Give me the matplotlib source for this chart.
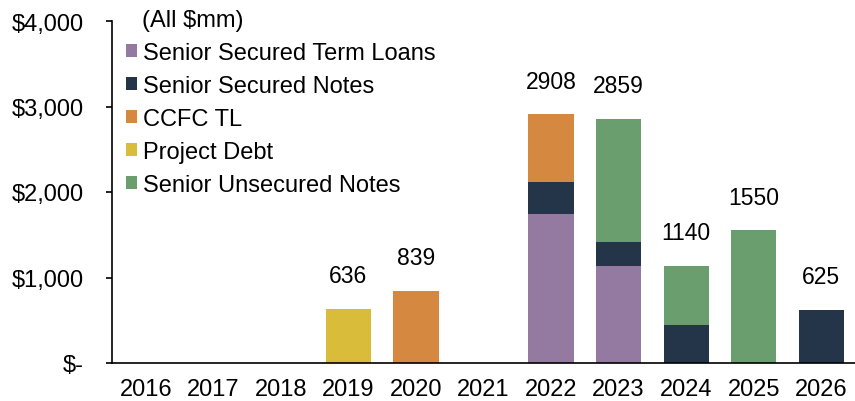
import numpy as np
import matplotlib.pyplot as plt
from matplotlib.ticker import FuncFormatter

plt.rcParams['font.family'] = ['Liberation Sans', 'DejaVu Sans']

years = ['2016', '2017', '2018', '2019', '2020', '2021', '2022', '2023', '2024', '2025', '2026']
term_loans = [0, 0, 0, 0, 0, 0, 1745, 1135, 0, 0, 0]
secured_notes = [0, 0, 0, 0, 0, 0, 372, 280, 440, 0, 625]
ccfc_tl = [0, 0, 0, 0, 839, 0, 791, 0, 0, 0, 0]
project_debt = [0, 0, 0, 636, 0, 0, 0, 0, 0, 0, 0]
unsecured_notes = [0, 0, 0, 0, 0, 0, 0, 1444, 700, 1550, 0]

series = [
    ('Senior Secured Term Loans', term_loans, '#9479a0'),
    ('Senior Secured Notes', secured_notes, '#243449'),
    ('CCFC TL', ccfc_tl, '#d5883f'),
    ('Project Debt', project_debt, '#d9bc3a'),
    ('Senior Unsecured Notes', unsecured_notes, '#6a9e6e'),
]

W, H = 855, 402
fig = plt.figure(figsize=(W / 100, H / 100), dpi=100)
ax = fig.add_axes([112 / W, 1 - 364 / H, 1 - 112 / W, 342 / H])

x = np.arange(len(years))
bottom = np.zeros(len(years))
for name, vals, color in series:
    vals = np.array(vals, dtype=float)
    ax.bar(x, vals, 0.67, bottom=bottom, color=color, label=name)
    bottom += vals

# totals above each stack
for xi, total in zip(x, bottom):
    if total > 0:
        ax.annotate(f'{int(total)}', (xi, total), xytext=(0, 24), textcoords='offset points',
                    ha='center', va='center', fontsize=16.5)

ax.set_xlim(-0.5, 10.5)
ax.set_ylim(0, 4000)
ax.set_yticks([0, 1000, 2000, 3000, 4000])
ax.yaxis.set_major_formatter(FuncFormatter(lambda v, p: '$-' if v == 0 else f'${v:,.0f}'))
ax.set_xticks(x)
ax.set_xticklabels(years)
ax.tick_params(axis='y', length=4.5, width=1.2, labelsize=17, pad=16)
ax.tick_params(axis='x', length=0, labelsize=17, pad=11)
for s in ['top', 'right']:
    ax.spines[s].set_visible(False)
ax.spines['left'].set_linewidth(1.2)
ax.spines['bottom'].set_linewidth(1.2)

ax.legend(loc='upper left', bbox_to_anchor=(126 / W, 1 - 43 / H), bbox_transform=fig.transFigure,
          frameon=False, fontsize=17, borderpad=0, borderaxespad=0,
          handlelength=0.47, handleheight=0.47, handletextpad=0.25, labelspacing=0.47)
fig.text(142 / W, 1 - 21 / H, '(All $mm)', fontsize=17, ha='left', va='center')

fig.savefig('out.png', dpi=100)
